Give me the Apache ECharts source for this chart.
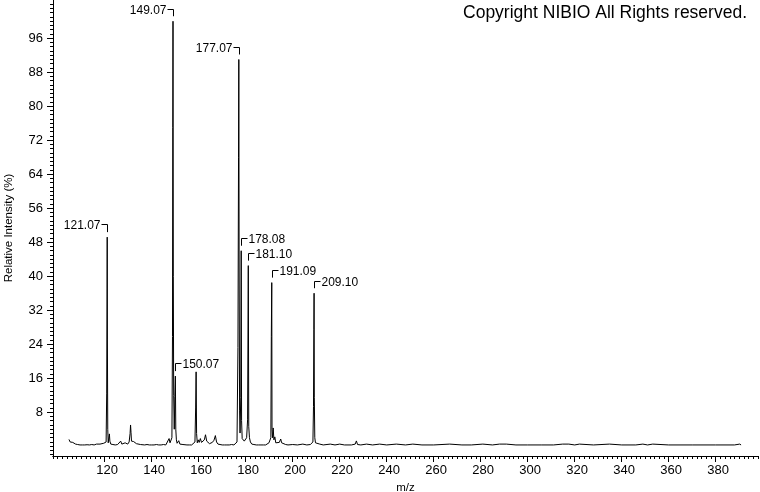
<!DOCTYPE html>
<html>
<head>
<meta charset="utf-8">
<script src="https://cdn.jsdelivr.net/npm/echarts@6/dist/echarts.min.js"></script>
<style>
  html, body { margin: 0; padding: 0; background: #fff; }
  #chart { width: 760px; height: 492px; }
</style>
</head>
<body>
<div id="chart"></div>
<script>
// ---- Data ----
const mzValues = [
  104.8,105.3,105.8,106.4,107.0,107.6,108.5,109.5,110.5,111.5,112.5,113.5,114.5,115.5,116.5,117.2,118.0,118.8,119.6,120.2,
  120.6,120.85,121.0,121.07,121.15,121.3,121.5,121.8,122.0,122.2,122.6,123.5,124.5,125.5,126.3,126.8,127.3,128.0,128.7,129.2,
  129.8,130.4,130.8,131.0,131.2,131.4,131.8,132.3,132.8,133.5,134.3,135.2,136.0,137.0,138.0,139.0,140.0,141.0,142.0,143.0,
  144.0,145.0,146.0,146.8,147.4,147.8,148.3,148.6,148.85,148.97,149.07,149.2,149.35,149.6,149.85,150.07,150.25,150.5,150.8,151.5,
  152.0,152.7,153.3,154.0,155.0,156.0,157.0,157.8,158.4,158.7,158.9,159.1,159.4,159.8,160.2,160.7,161.2,161.8,162.4,162.9,
  163.4,164.0,164.6,165.2,165.8,166.5,167.1,167.6,168.2,169.0,170.0,171.0,172.0,173.0,174.0,175.0,175.8,176.3,176.7,176.95,
  177.07,177.2,177.4,177.6,177.9,178.08,178.25,178.5,178.9,179.4,179.9,180.4,180.8,181.10,181.3,181.6,182.0,182.6,183.5,184.5,
  185.5,186.5,187.5,188.5,189.3,189.9,190.3,190.7,190.9,191.09,191.2,191.4,191.7,192.0,192.4,192.8,193.5,194.3,194.9,195.3,
  196.0,197.0,198.0,200.0,202.0,204.3,206.0,207.5,208.3,208.6,208.85,209.0,209.10,209.2,209.4,209.7,210.2,211.5,213.0,216.0,
  218.0,220.0,222.0,225.0,226.6,227.1,227.6,229.0,231.4,234.0,237.0,240.0,244.1,248.0,251.1,255.0,260.0,266.8,272.0,276.0,
  280.9,285.0,288.0,290.9,295.0,300.0,306.0,311.0,314.9,317.5,320.0,322.0,328.0,334.8,340.0,346.0,349.0,351.0,353.2,360.0,
  370.0,380.0,388.0,390.2,390.8
];
const intensities = [
  1.6,1.0,0.6,0.9,0.8,0.5,0.4,0.3,0.3,0.3,0.35,0.3,0.4,0.3,0.5,0.4,0.5,0.4,0.7,0.5,
  1.0,12.5,37,49.2,25,4,0.8,1.0,2.9,1.2,0.5,0.4,0.3,0.4,0.5,1.2,0.5,0.4,0.8,0.4,
  0.5,1.0,3.0,5.0,3.2,1.2,0.8,1.1,0.7,0.6,0.5,0.4,0.3,0.3,0.4,0.3,0.3,0.3,0.4,0.3,
  0.3,0.4,0.3,0.5,1.8,0.8,1.0,2.0,25.8,75,100,40,12,4,11.7,16.5,4,1.5,0.7,1.3,
  0.5,0.9,0.4,0.3,0.3,0.3,0.3,0.5,1.0,9,17.5,3,0.8,1.5,0.9,1.8,0.9,1.2,1.5,2.7,
  1.2,0.9,0.6,0.7,0.9,1.4,2.5,1.0,0.5,0.3,0.3,0.3,0.3,0.3,0.4,0.3,0.4,1.0,23.2,68,
  91,45,8.5,3.1,11.4,46,6,1.8,1.5,1.2,1.5,2.0,6.2,42.5,4.6,2.0,1.0,0.5,0.4,0.3,
  0.3,0.3,0.3,0.3,0.4,0.8,0.5,2.0,25.8,38.5,4.0,2.0,4.3,1.5,2.2,0.8,0.6,0.9,1.7,0.8,
  0.5,0.4,0.3,0.4,0.3,0.5,0.3,0.4,0.8,1.0,9.3,27.4,36,11.4,2.0,0.8,0.4,0.5,0.3,0.5,
  0.3,0.5,0.3,0.3,0.5,1.25,0.4,0.3,0.5,0.3,0.5,0.3,0.5,0.3,0.5,0.3,0.3,0.5,0.3,0.3,
  0.5,0.3,0.5,0.5,0.3,0.3,0.3,0.3,0.5,0.5,0.3,0.5,0.3,0.5,0.3,0.3,0.5,0.3,0.5,0.3,
  0.3,0.3,0.3,0.5,0.3
];
const labelMz = [121.07, 149.07, 150.07, 177.07, 178.08, 181.10, 191.09, 209.10];
const labelInt = [49.2, 100, 16.5, 91, 46, 42.5, 38.5, 36];
const labelText = ['121.07', '149.07', '150.07', '177.07', '178.08', '181.10', '191.09', '209.10'];
const labelSide = ['left', 'left', 'right', 'left', 'right', 'right', 'right', 'right'];
const xTickLabels = [120, 140, 160, 180, 200, 220, 240, 260, 280, 300, 320, 340, 360, 380];
const yTickLabels = [8, 16, 24, 32, 40, 48, 56, 64, 72, 80, 88, 96];

// ---- Axis decoration (minor ticks) ----
const X_MIN = 98, X_MAX = 398, Y_MIN = -2.3, Y_MAX = 105;
const xMinor = []; for (let v = 98; v <= 398; v += 2) xMinor.push(v);
const yMinor = []; for (let v = -2; v <= 104; v += 1) yMinor.push(v);

const spectrum = mzValues.map((m, i) => [m, intensities[i]]);
const peakData = labelMz.map((m, i) => [m, labelInt[i], i]);

const FONT = '"Liberation Sans", Arial, Helvetica, sans-serif';
const TICKFONT = '"Liberation Sans Narrow", "Arial Narrow", "Liberation Sans", sans-serif';
const black = '#000';

const chart = echarts.init(document.getElementById('chart'), null, { renderer: 'canvas' });

function baseX(extra) {
  return Object.assign({
    type: 'value', min: X_MIN, max: X_MAX, position: 'bottom',
    splitLine: { show: false },
    axisLine: { show: true, onZero: false, lineStyle: { color: black, width: 1 } }
  }, extra);
}
function baseY(extra) {
  return Object.assign({
    type: 'value', min: Y_MIN, max: Y_MAX, position: 'left',
    splitLine: { show: false },
    axisLine: { show: true, onZero: false, lineStyle: { color: black, width: 1 } }
  }, extra);
}

chart.setOption({
  animation: false,
  backgroundColor: '#fff',
  grid: { left: 53, right: 2, top: 0, bottom: 36, containLabel: false, outerBoundsMode: 'none' },
  xAxis: [
    baseX({
      name: 'm/z', nameLocation: 'middle', nameGap: 23,
      nameTextStyle: { color: black, fontFamily: FONT, fontSize: 11.5 },
      axisTick: { show: true, length: 6, customValues: xTickLabels, lineStyle: { color: black } },
      axisLabel: { show: true, customValues: xTickLabels, margin: 8, color: black, fontFamily: TICKFONT, fontSize: 13, padding: [0, 0, 0, 5] }
    }),
    baseX({
      axisTick: { show: true, length: 3, customValues: xMinor, lineStyle: { color: black } },
      axisLabel: { show: false }
    })
  ],
  yAxis: [
    baseY({
      name: 'Relative Intensity (%)', nameLocation: 'middle', nameGap: 38, nameRotate: 90,
      nameTextStyle: { color: black, fontFamily: FONT, fontSize: 11.5 },
      axisTick: { show: true, length: 6, customValues: yTickLabels, lineStyle: { color: black } },
      axisLabel: { show: true, customValues: yTickLabels, margin: 10, color: black, fontFamily: TICKFONT, fontSize: 13 }
    }),
    baseY({
      axisTick: { show: true, length: 3, customValues: yMinor, lineStyle: { color: black } },
      axisLabel: { show: false }
    })
  ],
  graphic: [{
    type: 'text', right: 13, top: 4,
    style: { text: 'Copyright NIBIO All Rights reserved.', fill: black, font: '17.5px ' + FONT }
  }],
  series: [
    {
      type: 'line', data: spectrum, xAxisIndex: 0, yAxisIndex: 0,
      symbol: 'none', showSymbol: false, smooth: false,
      lineStyle: { color: black, width: 1 }, itemStyle: { color: black },
      silent: true
    },
    {
      type: 'custom', data: peakData, xAxisIndex: 0, yAxisIndex: 0,
      encode: { x: 0, y: 1 }, clip: false, silent: true,
      renderItem: function (params, api) {
        const idx = api.value(2);
        const p = api.coord([api.value(0), api.value(1)]);
        const x = Math.round(p[0]) + 0.5;
        const yTop = p[1];
        const yBr = Math.round(yTop - 12.7) + 0.5;
        const yEnd = yTop - 5;
        const left = labelSide[idx] === 'left';
        const hx = left ? x - 6 : x + 6;
        return {
          type: 'group',
          children: [
            { type: 'polyline', shape: { points: [[hx, yBr], [x, yBr], [x, yEnd]] },
              style: { stroke: black, lineWidth: 1, fill: null } },
            { type: 'text', style: {
                text: labelText[idx], x: left ? x - 7 : x + 7, y: yTop - 11,
                align: left ? 'right' : 'left', verticalAlign: 'middle',
                fill: black, font: '12px ' + FONT } }
          ]
        };
      }
    }
  ]
});
</script>
</body>
</html>
